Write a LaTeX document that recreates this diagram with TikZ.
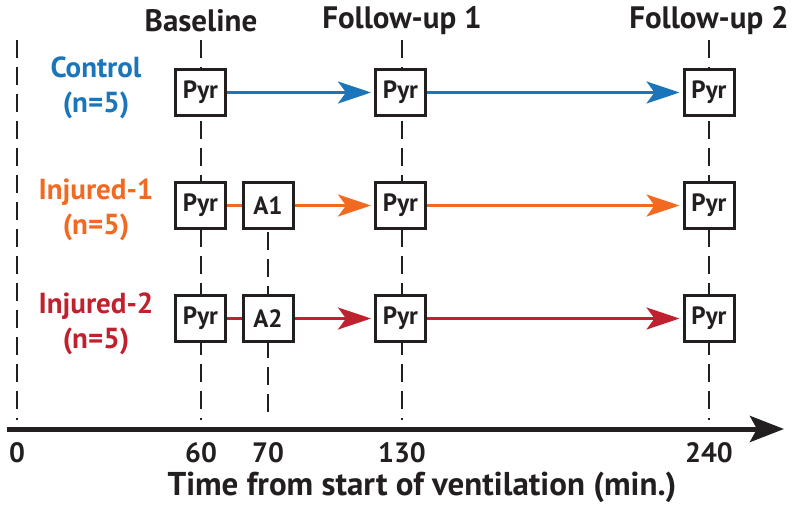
\documentclass[tikz,border=0pt]{standalone}
\usepackage{fontspec}
\setmainfont{PT Sans}
\usetikzlibrary{arrows.meta}
\definecolor{cblue}{HTML}{1B75BB}
\definecolor{corange}{HTML}{F26A21}
\definecolor{cred}{HTML}{C1202F}
\definecolor{cdark}{HTML}{231F20}
\begin{document}
\begin{tikzpicture}[x=1pt,y=-1pt,
  every node/.style={font=\bfseries, text=cdark},
  box/.style={draw=cdark, line width=3pt, minimum width=50pt, minimum height=46pt, inner sep=0pt, fill=white, font=\fontsize{25}{27}\bfseries\selectfont},
  vdash/.style={draw=cdark, line width=1.8pt, dash pattern=on 18pt off 9pt},
  conn/.style={line width=3pt, -{Stealth[length=33pt, width=22pt, inset=8pt]}, shorten >=3pt},
  link/.style={line width=3pt},
  head/.style={font=\fontsize{31}{33}\bfseries\selectfont},
  grp/.style={font=\fontsize{29}{35}\bfseries\selectfont, align=center},
  tick/.style={font=\fontsize{28}{30}\bfseries\selectfont}
]
\useasboundingbox (0,0) rectangle (795,508);
% headers
\node[head] (hb) at (201,21) {Baseline};
\node[head] (h1) at (402,21) {Follow-up 1};
\node[head] (h2) at (709,21) {Follow-up 2};
% dashed time lines
\coordinate (t0a) at (17,40); \coordinate (t0b) at (17,420);
\coordinate (t60a) at (201,40); \coordinate (t60b) at (201,420);
\coordinate (t70a) at (268,232); \coordinate (t70b) at (268,420);
\coordinate (t130a) at (402,40); \coordinate (t130b) at (402,420);
\coordinate (t240a) at (709,40); \coordinate (t240b) at (709,420);
\draw[vdash] (t0a) -- (t0b);
\draw[vdash] (t60a) -- (t60b);
\draw[vdash] (t70a) -- (t70b);
\draw[vdash] (t130a) -- (t130b);
\draw[vdash] (t240a) -- (t240b);
% group labels
\node[grp, text=cblue] (gc) at (96,88) {Control\\(n=5)};
\node[grp, text=corange] (g1) at (96,210) {Injured-1\\(n=5)};
\node[grp, text=cred] (g2) at (96,324) {Injured-2\\(n=5)};
% row 1
\node[box] (c0) at (200.5,92.5) {Pyr};
\node[box] (c1) at (400.5,92.5) {Pyr};
\node[box] (c2) at (709,92.5) {Pyr};
\draw[conn, cblue] (c0) -- (c1);
\draw[conn, cblue] (c1) -- (c2);
% row 2
\node[box] (a0) at (200.5,205.5) {Pyr};
\node[box] (aa) at (268,205.5) {A1};
\node[box] (a1) at (400.5,205.5) {Pyr};
\node[box] (a2) at (709,205.5) {Pyr};
\draw[link, corange] (a0) -- (aa);
\draw[conn, corange] (aa) -- (a1);
\draw[conn, corange] (a1) -- (a2);
% row 3
\node[box] (b0) at (200.5,318.5) {Pyr};
\node[box] (bb) at (268,318.5) {A2};
\node[box] (b1) at (400.5,318.5) {Pyr};
\node[box] (b2) at (709,318.5) {Pyr};
\draw[link, cred] (b0) -- (bb);
\draw[conn, cred] (bb) -- (b1);
\draw[conn, cred] (b1) -- (b2);
% axis
\coordinate (ax0) at (7,429);
\coordinate (ax1) at (784,429);
\draw[line width=5pt, cdark, -{Stealth[length=34pt, width=26pt, inset=7pt]}] (ax0) -- (ax1);
\node[tick] (n0) at (17,453) {0};
\node[tick] (n60) at (201,453) {60};
\node[tick] (n70) at (268,453) {70};
\node[tick] (n130) at (402,453) {130};
\node[tick] (n240) at (709,453) {240};
\node[font=\fontsize{33}{35}\bfseries\selectfont] (xl) at (422,487) {Time from start of ventilation (min.)};
\end{tikzpicture}
\end{document}
